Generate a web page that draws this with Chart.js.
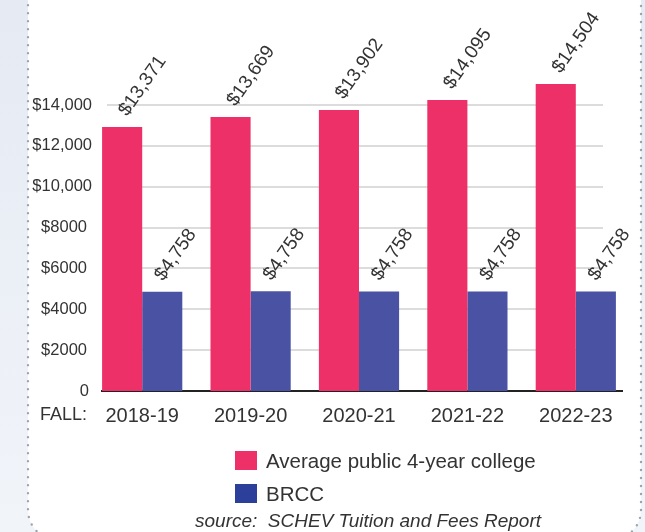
<!DOCTYPE html>
<html>
<head>
<meta charset="utf-8">
<script src="https://cdn.jsdelivr.net/npm/chart.js@4.4.1/dist/chart.umd.min.js"></script>
<style>
  html, body { margin: 0; padding: 0; }
  body {
    width: 645px; height: 532px; overflow: hidden; position: relative;
    background: linear-gradient(#e5eaf3, #f1f4f9);
    font-family: "Liberation Sans", Arial, sans-serif; color: #333;
  }
  #frame { position: absolute; left: 0; top: 0; }
  #chart { position: absolute; left: 0; top: 0; }
  .legend { position: absolute; left: 235px; font-size: 20.5px; line-height: 20px; }
  .legend span.box { position: absolute; left: 0; top: 0; width: 22px; height: 19px; }
  .legend span.txt { position: absolute; left: 31px; top: 0; white-space: nowrap; }
  #source { position: absolute; left: 195px; top: 510px; font-size: 19px; font-style: italic; white-space: pre; }
</style>
</head>
<body>
<svg id="frame" width="645" height="532">
  <rect x="28" y="-40" width="613" height="580" rx="30" fill="#fff"
        stroke="#9ea4ae" stroke-width="2.4" stroke-dasharray="0 8" stroke-linecap="round"/>
</svg>
<canvas id="chart" width="645" height="532"></canvas>
<div class="legend" style="top:451px"><span class="box" id="lg0"></span><span class="txt" id="lt0"></span></div>
<div class="legend" style="top:484px"><span class="box" id="lg1"></span><span class="txt" id="lt1"></span></div>
<div id="source">source:  SCHEV Tuition and Fees Report</div>
<script>
// --- data ---
const years = ['2018-19', '2019-20', '2020-21', '2021-22', '2022-23'];
const seriesNames = ['Average public 4-year college', 'BRCC'];
// printed values above the bars
const collegeCost = [13371, 13669, 13902, 14095, 14504];
const brccCost = [4758, 4758, 4758, 4758, 4758];
// bar heights as drawn in the picture
const collegeBars = [12920, 13410, 13755, 14245, 15030];
const brccBars = [4860, 4880, 4870, 4870, 4870];
const yTicks = [0, 2000, 4000, 6000, 8000, 10000, 12000, 14000];

const pink = '#ee3068';
const blue = '#4a53a3';
const legendBlue = '#2c409b';
const font = '"Liberation Sans", Arial, sans-serif';

const fmt = v => '$' + v.toLocaleString('en-US');
const tickFmt = v => v === 0 ? '0' : (v >= 10000 ? '$' + v.toLocaleString('en-US') : '$' + v);
const printed = [collegeCost.map(fmt), brccCost.map(fmt)];
const labelShift = [5, 1];

// legend in html
document.getElementById('lg0').style.background = pink;
document.getElementById('lg1').style.background = legendBlue;
document.getElementById('lt0').textContent = seriesNames[0];
document.getElementById('lt1').textContent = seriesNames[1];

const decor = {
  id: 'decor',
  beforeDatasetsDraw(chart) {
    const { ctx } = chart;
    const y = chart.scales.y;
    ctx.save();
    ctx.strokeStyle = '#dcdcdc';
    ctx.lineWidth = 2;
    yTicks.forEach(t => {
      if (t === 0) return;
      const py = Math.round(y.getPixelForValue(t));
      ctx.beginPath();
      ctx.moveTo(107, py);
      ctx.lineTo(603, py);
      ctx.stroke();
    });
    // baseline
    const by = y.getPixelForValue(0);
    ctx.strokeStyle = '#222';
    ctx.lineWidth = 2;
    ctx.beginPath();
    ctx.moveTo(101, by);
    ctx.lineTo(623, by);
    ctx.stroke();
    // y tick labels
    ctx.fillStyle = '#333';
    ctx.font = '16.5px ' + font;
    ctx.textAlign = 'right';
    ctx.textBaseline = 'middle';
    yTicks.forEach(t => {
      ctx.fillText(tickFmt(t), t >= 10000 ? 92 : (t === 0 ? 89 : 87), y.getPixelForValue(t));
    });
    ctx.restore();
  },
  afterDatasetsDraw(chart) {
    const { ctx } = chart;
    ctx.save();
    ctx.fillStyle = '#333';
    ctx.font = '19px ' + font;
    ctx.textAlign = 'left';
    ctx.textBaseline = 'alphabetic';
    chart.data.datasets.forEach((ds, i) => {
      chart.getDatasetMeta(i).data.forEach((bar, j) => {
        ctx.save();
        ctx.translate(bar.x + labelShift[i], bar.y - 10);
        ctx.rotate(-55 * Math.PI / 180);
        ctx.fillText(printed[i][j], 0, 0);
        ctx.restore();
      });
    });
    // "FALL:" caption in front of the category labels
    ctx.font = '18px ' + font;
    ctx.textBaseline = 'middle';
    ctx.fillText('FALL:', 40, 415);
    ctx.restore();
  }
};

new Chart(document.getElementById('chart'), {
  type: 'bar',
  data: {
    labels: years,
    datasets: [
      { label: seriesNames[0], data: collegeBars, backgroundColor: pink, clip: false },
      { label: seriesNames[1], data: brccBars, backgroundColor: blue, clip: false }
    ]
  },
  options: {
    responsive: false,
    animation: false,
    layout: { padding: { top: 105, right: 15, bottom: 100, left: 0 } },
    datasets: { bar: { categoryPercentage: 0.74, barPercentage: 1 } },
    plugins: { legend: { display: false }, tooltip: { enabled: false } },
    scales: {
      x: {
        grid: { display: false },
        border: { display: false },
        ticks: { color: '#333', font: { size: 20, family: font }, padding: 5, maxRotation: 0 },
        afterFit: s => { s.height = 41; }
      },
      y: {
        min: 0,
        max: 14000,
        grid: { display: false, drawTicks: false },
        border: { display: false },
        afterBuildTicks: s => { s.ticks = yTicks.map(v => ({ value: v })); },
        ticks: { display: false },
        afterFit: s => { s.width = 88; }
      }
    }
  },
  plugins: [decor]
});
</script>
</body>
</html>
